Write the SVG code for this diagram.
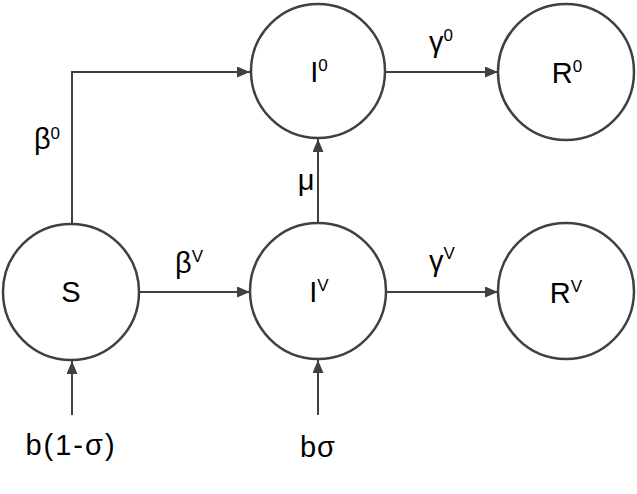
<svg xmlns="http://www.w3.org/2000/svg" width="637" height="494" viewBox="0 0 637 494">
<defs>
<style>
.node{fill:#fff;stroke:#404040;stroke-width:2.5}
.edge{fill:none;stroke:#404040;stroke-width:2}
text{font-family:"Liberation Sans",Arial,sans-serif;font-size:29px;fill:#000;text-anchor:middle}
.sup{font-size:17px}
</style>
<marker id="arr" markerUnits="userSpaceOnUse" markerWidth="14" markerHeight="12" refX="13" refY="5.5" orient="auto">
<path d="M0,0 L13,5.5 L0,11 z" fill="#404040"/>
</marker>
</defs>
<rect width="637" height="494" fill="#fff"/>
<g id="connectors">
<path class="edge" d="M72,223 V72 H250" marker-end="url(#arr)"/>
<path class="edge" d="M385,72 H498" marker-end="url(#arr)"/>
<path class="edge" d="M318,223 V139" marker-end="url(#arr)"/>
<path class="edge" d="M139,292 H250" marker-end="url(#arr)"/>
<path class="edge" d="M386,292 H498" marker-end="url(#arr)"/>
<path class="edge" d="M72,415 V361" marker-end="url(#arr)"/>
<path class="edge" d="M318,415 V360" marker-end="url(#arr)"/>
<text x="47" y="149">β<tspan class="sup" dy="-10">0</tspan></text>
<text x="441" y="52">γ<tspan class="sup" dy="-11">0</tspan></text>
<text x="306" y="190">μ</text>
<text x="189" y="273">β<tspan class="sup" dy="-11">V</tspan></text>
<text x="442" y="271">γ<tspan class="sup" dy="-12">V</tspan></text>
<text x="71" y="455" letter-spacing="2">b(1-σ)</text>
<text x="318" y="457" letter-spacing="1">bσ</text>
</g>
<g id="S">
<circle class="node" cx="71" cy="292" r="68"/>
<text x="71" y="302">S</text>
</g>
<g id="I0">
<circle class="node" cx="318" cy="71" r="67"/>
<text x="319" y="82">I<tspan class="sup" dy="-11">0</tspan></text>
</g>
<g id="R0">
<circle class="node" cx="566" cy="72" r="68"/>
<text x="567" y="83">R<tspan class="sup" dy="-11">0</tspan></text>
</g>
<g id="IV">
<circle class="node" cx="318" cy="291" r="68"/>
<text x="319" y="302">I<tspan class="sup" dy="-11">V</tspan></text>
</g>
<g id="RV">
<circle class="node" cx="566" cy="291" r="68"/>
<text x="566" y="303">R<tspan class="sup" dy="-11">V</tspan></text>
</g>
</svg>
